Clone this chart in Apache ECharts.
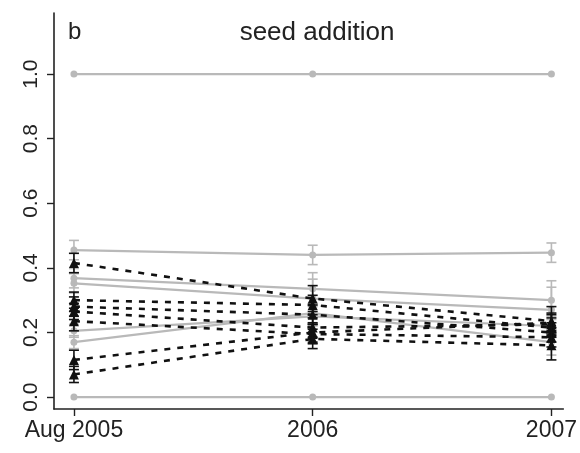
<!DOCTYPE html>
<html>
<head>
<meta charset="utf-8">
<script src="https://cdn.jsdelivr.net/npm/echarts@6/dist/echarts.min.js"></script>
<style>html,body{margin:0;padding:0;background:#fff}#c{width:580px;height:453px}</style>
</head>
<body>
<div id="c"></div>
<script>
// ---- data ----
var xPositions = [0, 1, 2];
var xLabels = ['Aug 2005', '2006', '2007'];
var yTicks = [0, 0.2, 0.4, 0.6, 0.8, 1.0];

// gray (solid) series: values and half-width errors
var grayOne  = [1, 1, 1];
var grayZero = [0, 0, 0];
var grayA = [0.455, 0.44, 0.447];  var grayAErr = [0.03, 0.03, 0.03];
var grayB = [0.368, 0.335, 0.30];  var grayBErr = [0.03, 0.05, 0.06];
var grayC = [0.352, 0.305, 0.27];  var grayCErr = [0.03, 0.06, 0.07];
var grayD = [0.205, 0.25, 0.22];   var grayDErr = [0.02, 0.03, 0.03];
var grayE = [0.17, 0.26, 0.17];    var grayEErr = [0.02, 0.03, 0.04];

// black (dashed) series
var blk1 = [0.415, 0.305, 0.235]; var blk1Err = [0.03, 0.04, 0.045];
var blk2 = [0.30, 0.285, 0.215];  var blk2Err = [0.025, 0.03, 0.03];
var blk3 = [0.28, 0.255, 0.20];   var blk3Err = [0.03, 0.03, 0.03];
var blk4 = [0.265, 0.215, 0.225]; var blk4Err = [0.025, 0.03, 0.03];
var blk5 = [0.235, 0.195, 0.185]; var blk5Err = [0.03, 0.03, 0.03];
var blk6 = [0.115, 0.20, 0.23];   var blk6Err = [0.03, 0.03, 0.03];
var blk7 = [0.07, 0.18, 0.16];    var blk7Err = [0.025, 0.03, 0.045];

var GRAY = '#b9b9b9';
var BLACK = '#111111';

function pts(vals) { return vals.map(function (v, i) { return [xPositions[i], v]; }); }
function errs(vals, e) { return vals.map(function (v, i) { return [xPositions[i], v - e[i], v + e[i]]; }); }

function errSeries(vals, e, color) {
  return {
    type: 'custom', silent: true, z: color === BLACK ? 6 : 3,
    data: errs(vals, e),
    encode: { x: 0, y: [1, 2] },
    renderItem: function (params, api) {
      var lo = api.coord([api.value(0), api.value(1)]);
      var hi = api.coord([api.value(0), api.value(2)]);
      var w = 5;
      var st = { stroke: color, lineWidth: 1.6 };
      return { type: 'group', children: [
        { type: 'line', shape: { x1: lo[0], y1: lo[1], x2: hi[0], y2: hi[1] }, style: st },
        { type: 'line', shape: { x1: lo[0] - w, y1: lo[1], x2: lo[0] + w, y2: lo[1] }, style: st },
        { type: 'line', shape: { x1: hi[0] - w, y1: hi[1], x2: hi[0] + w, y2: hi[1] }, style: st }
      ]};
    }
  };
}
function grayLine(vals) {
  return { type: 'line', data: pts(vals), symbol: 'circle', symbolSize: 7, z: 2,
    lineStyle: { color: GRAY, width: 2.2 }, itemStyle: { color: GRAY }, silent: true };
}
function blackLine(vals) {
  return { type: 'line', data: pts(vals), symbol: 'triangle', symbolSize: 10, z: 5,
    lineStyle: { color: BLACK, width: 2.6, type: [6, 7] }, itemStyle: { color: BLACK }, silent: true };
}

var series = [grayLine(grayOne), grayLine(grayZero)];
[[grayA, grayAErr], [grayB, grayBErr], [grayC, grayCErr], [grayD, grayDErr], [grayE, grayEErr]].forEach(function (p) {
  series.push(grayLine(p[0])); series.push(errSeries(p[0], p[1], GRAY));
});
[[blk1, blk1Err], [blk2, blk2Err], [blk3, blk3Err], [blk4, blk4Err], [blk5, blk5Err], [blk6, blk6Err], [blk7, blk7Err]].forEach(function (p) {
  series.push(blackLine(p[0])); series.push(errSeries(p[0], p[1], BLACK));
});

var chart = echarts.init(document.getElementById('c'), null, { renderer: 'canvas' });
chart.setOption({
  animation: false,
  backgroundColor: '#fff',
  textStyle: { fontFamily: 'Liberation Sans, Arial, sans-serif' },
  title: [
    { text: 'b', left: 63, top: 15, textStyle: { fontSize: 24, fontWeight: 'normal', color: '#222' } },
    { text: 'seed addition', left: 312, top: 15, textAlign: 'center', textStyle: { fontSize: 26, fontWeight: 'normal', color: '#222' } }
  ],
  grid: { left: 54, right: 15, top: 13, bottom: 44 },
  xAxis: {
    type: 'value', min: -0.0835, max: 2.05,
    axisLine: { show: true, onZero: false, lineStyle: { color: '#222', width: 1.6 } },
    axisTick: { show: true, length: 7, lineStyle: { color: '#222', width: 1.4 }, customValues: xPositions },
    axisLabel: { customValues: xPositions, fontSize: 23, color: '#222', margin: 10,
      formatter: function (v) { return xLabels[xPositions.indexOf(Math.round(v))]; } },
    splitLine: { show: false }
  },
  yAxis: {
    type: 'value', min: -0.037, max: 1.189,
    axisLine: { show: true, onZero: false, lineStyle: { color: '#222', width: 1.6 } },
    axisTick: { show: true, length: 7, lineStyle: { color: '#222', width: 1.4 }, customValues: yTicks },
    axisLabel: { customValues: yTicks, fontSize: 21, color: '#222', rotate: 90, margin: 12,
      formatter: function (v) { return v.toFixed(1); } },
    splitLine: { show: false }
  },
  series: series
});
</script>
</body>
</html>
